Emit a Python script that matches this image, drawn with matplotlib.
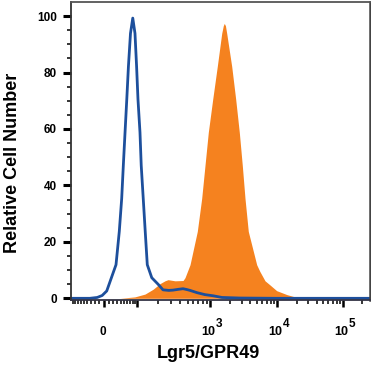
import numpy as np
import matplotlib
matplotlib.use("Agg")
import matplotlib.pyplot as plt
from matplotlib.ticker import FixedLocator, NullFormatter
from matplotlib.transforms import blended_transform_factory, offset_copy

plt.rcParams['font.family'] = ['Liberation Sans', 'DejaVu Sans']

# isotype control (blue outline)
blue_x = [-100, -33, -15, -4, 6, 27.5, 36, 42.7, 47.5, 52.8, 58.5, 64.2, 71.8, 80.9,
          90.5, 98, 103.4, 110.7, 115.4, 123.4, 131.8, 141, 163, 201, 233, 280, 319, 380,
          435, 490, 541, 670, 857, 1110, 1510, 2800, 1e4, 262144]
blue_y = [0, 0, 0.3, 1.0, 2.6, 11.9, 23.7, 35.4, 47.1, 58.8, 70.5, 82.2, 93.9, 99.3,
          93.9, 82.2, 70.5, 58.8, 47.1, 35.4, 23.7, 11.9, 7.3, 4.9, 3.0, 2.8, 2.9, 3.2,
          3.4, 3.1, 2.8, 2.0, 1.3, 0.9, 0.3, 0.1, 0, 0]

# Lgr5/GPR49 stained (orange filled)
orange_x = [-100, 38, 90, 131, 170, 212, 248, 273, 339, 435, 462, 540, 676, 774, 857,
            949, 1097, 1285, 1496, 1580, 1635, 1700, 1776, 2109, 2420, 2739, 3035, 3330,
            3730, 4977, 5525, 6622, 7800, 9892, 14150, 18700, 26500, 262144]
orange_y = [0, 0, 0.5, 1.5, 3.2, 5.2, 6.2, 6.6, 6.2, 6.3, 7.3, 11.9, 23.7, 35.4, 47.1,
            58.8, 70.5, 82.2, 93.9, 96.6, 97.4, 96.6, 93.9, 82.2, 70.5, 58.8, 47.1, 35.4,
            23.7, 11.9, 9.6, 6.2, 4.8, 2.7, 1.3, 0.5, 0, 0]

x_major = [0, 100, 1e3, 1e4, 1e5]
x_minor = ([-k * 10 for k in range(1, 10)] + [k * 10 for k in range(1, 10)]
           + [k * 100 for k in range(2, 10)] + [k * 1000 for k in range(2, 10)]
           + [k * 10000 for k in range(2, 10)] + [200000])
decade_labels = [(1e3, '3'), (1e4, '4'), (1e5, '5')]

# biexponential-like display scale
C = 50.0
anchor_vals = np.array([-100, 0, 100, 1e3, 1e4, 1e5, 262144])
anchor_g = np.arcsinh(anchor_vals / C)
anchor_pos = np.array([-33, 0, 33, 106, 173, 239, 266], dtype=float)


def fwd(x):
    return np.interp(np.arcsinh(np.asarray(x, dtype=float) / C), anchor_g, anchor_pos)


def inv(p):
    return C * np.sinh(np.interp(np.asarray(p, dtype=float), anchor_pos, anchor_g))


fig = plt.figure(figsize=(3.71, 3.72), dpi=100)
ax = fig.add_axes([71 / 371, 1 - 300 / 372, 299 / 371, 298 / 372])
ax.set_xscale('function', functions=(fwd, inv))

ax.fill_between(orange_x, orange_y, 0, color='#f5821f', linewidth=0)
ax.plot(blue_x, blue_y, color='#1d4f9c', linewidth=2.0, solid_joinstyle='round')

ax.set_xlim(-100, 262144)
ax.set_ylim(-0.6, 105)

ax.xaxis.set_major_locator(FixedLocator(x_major))
ax.xaxis.set_major_formatter(NullFormatter())
ax.xaxis.set_minor_locator(FixedLocator(x_minor))
ax.yaxis.set_major_locator(FixedLocator([0, 20, 40, 60, 80, 100]))
ax.yaxis.set_minor_locator(FixedLocator(list(range(5, 100, 5))))

ax.tick_params(axis='x', which='major', length=5, width=1.8)
ax.tick_params(axis='x', which='minor', length=3, width=1.1)
ax.tick_params(axis='y', which='major', length=6, width=2.2, pad=4, labelsize=8.5)
ax.tick_params(axis='y', which='minor', length=3, width=1.1)
for lab in ax.get_yticklabels():
    lab.set_fontweight('bold')

# x tick labels: 0 and 10 with a full-size raised exponent
blend = blended_transform_factory(ax.transData, ax.transAxes)
lab_y = -0.1174
ax.text(0, lab_y, '0', transform=offset_copy(blend, fig=fig, x=-0.7, y=0, units='points'),
        ha='center', va='baseline', fontsize=8.5, fontweight='bold')
for val, exp in decade_labels:
    ax.text(val, lab_y, '10', transform=offset_copy(blend, fig=fig, x=-1.1, y=0, units='points'),
            ha='center', va='baseline', fontsize=9, fontweight='bold')
    ax.text(val, lab_y, exp, transform=offset_copy(blend, fig=fig, x=4.3, y=5.8, units='points'),
            ha='left', va='baseline', fontsize=8.5, fontweight='bold')

ax.spines['left'].set_color('#333333')
ax.spines['left'].set_linewidth(1.3)
ax.spines['top'].set_color('#555555')
ax.spines['top'].set_linewidth(1.3)
ax.spines['right'].set_color('#444444')
ax.spines['right'].set_linewidth(1.8)
ax.spines['bottom'].set_color('#333344')
ax.spines['bottom'].set_linewidth(1.3)

ax.set_xlabel('Lgr5/GPR49', fontsize=13, fontweight='bold')
ax.set_ylabel('Relative Cell Number', fontsize=13, fontweight='bold')
ax.xaxis.set_label_coords(0.458, -0.178)
ax.xaxis.label.set_va('center')
ax.yaxis.set_label_coords(-0.195, 0.46)
ax.yaxis.label.set_va('center')

fig.savefig('out.png', dpi=100)
